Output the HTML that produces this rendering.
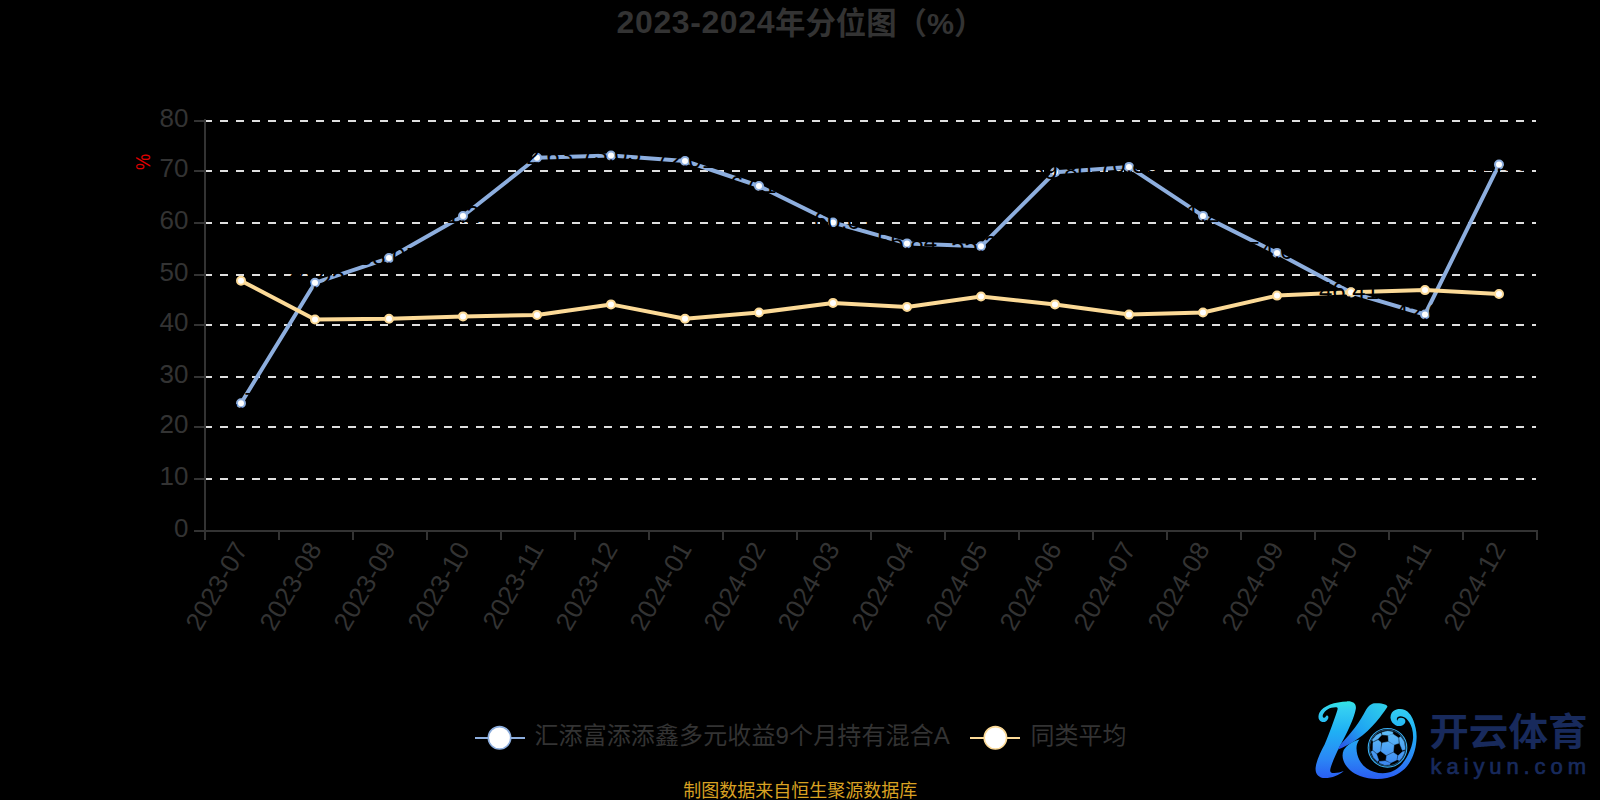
<!DOCTYPE html>
<html lang="zh-CN"><head><meta charset="utf-8"><title>2023-2024年分位图（%）</title>
<style>
html,body{margin:0;padding:0;background:#000;}
body{width:1600px;height:800px;overflow:hidden;position:relative;}
svg{position:absolute;left:0;top:0;display:block;}
text{font-family:"Liberation Sans","Noto Sans CJK SC",sans-serif;}
.ax{fill:#333333;font-size:26px;}
.lb{fill:#000;font-size:24px;text-anchor:middle;}
</style></head><body>
<svg width="1600" height="800" viewBox="0 0 1600 800">
<rect x="0" y="0" width="1600" height="800" fill="#000"/>
<!--TITLE-->
<text x="800.5" y="33.8" text-anchor="middle" font-size="30.4" font-weight="700" fill="#333"><tspan font-size="32" letter-spacing="0.6" dy="-0.7">2023-2024</tspan><tspan dy="0.7">年分位图（%）</tspan></text>
<g fill="none" stroke="#dfdfdf" stroke-width="2" stroke-dasharray="8 8">
<line x1="204" y1="121" x2="1536" y2="121"/>
<line x1="204" y1="171" x2="1536" y2="171"/>
<line x1="204" y1="223" x2="1536" y2="223"/>
<line x1="204" y1="275" x2="1536" y2="275"/>
<line x1="204" y1="325" x2="1536" y2="325"/>
<line x1="204" y1="377" x2="1536" y2="377"/>
<line x1="204" y1="427" x2="1536" y2="427"/>
<line x1="204" y1="479" x2="1536" y2="479"/>
</g>
<g fill="#333333">
<rect x="204" y="119" width="2" height="421"/>
<rect x="204" y="530" width="1334" height="2"/>
<rect x="194" y="120" width="10" height="2"/>
<rect x="194" y="170" width="10" height="2"/>
<rect x="194" y="222" width="10" height="2"/>
<rect x="194" y="274" width="10" height="2"/>
<rect x="194" y="324" width="10" height="2"/>
<rect x="194" y="376" width="10" height="2"/>
<rect x="194" y="426" width="10" height="2"/>
<rect x="194" y="478" width="10" height="2"/>
<rect x="194" y="530" width="10" height="2"/>
<rect x="204" y="530" width="2" height="10"/>
<rect x="278" y="530" width="2" height="10"/>
<rect x="352" y="530" width="2" height="10"/>
<rect x="426" y="530" width="2" height="10"/>
<rect x="500" y="530" width="2" height="10"/>
<rect x="574" y="530" width="2" height="10"/>
<rect x="648" y="530" width="2" height="10"/>
<rect x="722" y="530" width="2" height="10"/>
<rect x="796" y="530" width="2" height="10"/>
<rect x="870" y="530" width="2" height="10"/>
<rect x="944" y="530" width="2" height="10"/>
<rect x="1018" y="530" width="2" height="10"/>
<rect x="1092" y="530" width="2" height="10"/>
<rect x="1166" y="530" width="2" height="10"/>
<rect x="1240" y="530" width="2" height="10"/>
<rect x="1314" y="530" width="2" height="10"/>
<rect x="1388" y="530" width="2" height="10"/>
<rect x="1462" y="530" width="2" height="10"/>
<rect x="1536" y="530" width="2" height="10"/>
</g>
<g class="ax" text-anchor="end">
<text x="188.4" y="127.0">80</text>
<text x="188.4" y="177.0">70</text>
<text x="188.4" y="229.0">60</text>
<text x="188.4" y="281.0">50</text>
<text x="188.4" y="331.0">40</text>
<text x="188.4" y="383.0">30</text>
<text x="188.4" y="433.0">20</text>
<text x="188.4" y="485.0">10</text>
<text x="188.4" y="537.0">0</text>
</g>
<text transform="translate(149.6,161.8) rotate(-90) scale(1.04,1.16)" text-anchor="middle" font-size="17.5" fill="#e00000">%</text>
<g class="ax" text-anchor="end">
<text transform="translate(241.3,544.2) rotate(-60)" y="8.5" letter-spacing="0.25">2023-07</text>
<text transform="translate(315.3,544.2) rotate(-60)" y="8.5" letter-spacing="0.25">2023-08</text>
<text transform="translate(389.3,544.2) rotate(-60)" y="8.5" letter-spacing="0.25">2023-09</text>
<text transform="translate(463.3,544.2) rotate(-60)" y="8.5" letter-spacing="0.25">2023-10</text>
<text transform="translate(537.3,544.2) rotate(-60)" y="8.5" letter-spacing="0.25">2023-11</text>
<text transform="translate(611.3,544.2) rotate(-60)" y="8.5" letter-spacing="0.25">2023-12</text>
<text transform="translate(685.3,544.2) rotate(-60)" y="8.5" letter-spacing="0.25">2024-01</text>
<text transform="translate(759.3,544.2) rotate(-60)" y="8.5" letter-spacing="0.25">2024-02</text>
<text transform="translate(833.3,544.2) rotate(-60)" y="8.5" letter-spacing="0.25">2024-03</text>
<text transform="translate(907.3,544.2) rotate(-60)" y="8.5" letter-spacing="0.25">2024-04</text>
<text transform="translate(981.3,544.2) rotate(-60)" y="8.5" letter-spacing="0.25">2024-05</text>
<text transform="translate(1055.3,544.2) rotate(-60)" y="8.5" letter-spacing="0.25">2024-06</text>
<text transform="translate(1129.3,544.2) rotate(-60)" y="8.5" letter-spacing="0.25">2024-07</text>
<text transform="translate(1203.3,544.2) rotate(-60)" y="8.5" letter-spacing="0.25">2024-08</text>
<text transform="translate(1277.3,544.2) rotate(-60)" y="8.5" letter-spacing="0.25">2024-09</text>
<text transform="translate(1351.3,544.2) rotate(-60)" y="8.5" letter-spacing="0.25">2024-10</text>
<text transform="translate(1425.3,544.2) rotate(-60)" y="8.5" letter-spacing="0.25">2024-11</text>
<text transform="translate(1499.3,544.2) rotate(-60)" y="8.5" letter-spacing="0.25">2024-12</text>
</g>
<polyline points="241,403.2 315,282.8 389,258.1 463,216 537,157.75 611,155.6 685,161 759,186 833,222.5 907,243.4 981,246.3 1055,172.25 1129,166.9 1203,215.9 1277,252.9 1351,292.6 1425,314.5 1499,164.6" fill="none" stroke="#8daede" stroke-width="4" stroke-linejoin="bevel"/>
<g fill="#fff" stroke="#8daede" stroke-width="2">
<circle cx="241" cy="403.2" r="4"/>
<circle cx="315" cy="282.8" r="4"/>
<circle cx="389" cy="258.1" r="4"/>
<circle cx="463" cy="216" r="4"/>
<circle cx="537" cy="157.75" r="4"/>
<circle cx="611" cy="155.6" r="4"/>
<circle cx="685" cy="161" r="4"/>
<circle cx="759" cy="186" r="4"/>
<circle cx="833" cy="222.5" r="4"/>
<circle cx="907" cy="243.4" r="4"/>
<circle cx="981" cy="246.3" r="4"/>
<circle cx="1055" cy="172.25" r="4"/>
<circle cx="1129" cy="166.9" r="4"/>
<circle cx="1203" cy="215.9" r="4"/>
<circle cx="1277" cy="252.9" r="4"/>
<circle cx="1351" cy="292.6" r="4"/>
<circle cx="1425" cy="314.5" r="4"/>
<circle cx="1499" cy="164.6" r="4"/>
</g>
<polyline points="241,280.7 315,319.5 389,318.75 463,316.4 537,314.9 611,304.4 685,318.75 759,312.5 833,302.9 907,306.9 981,296.5 1055,304.4 1129,314.6 1203,312.5 1277,295.6 1351,292.25 1425,290.1 1499,294" fill="none" stroke="#fcda97" stroke-width="4" stroke-linejoin="bevel"/>
<g fill="#fff" stroke="#fcda97" stroke-width="2">
<circle cx="241" cy="280.7" r="4"/>
<circle cx="315" cy="319.5" r="4"/>
<circle cx="389" cy="318.75" r="4"/>
<circle cx="463" cy="316.4" r="4"/>
<circle cx="537" cy="314.9" r="4"/>
<circle cx="611" cy="304.4" r="4"/>
<circle cx="685" cy="318.75" r="4"/>
<circle cx="759" cy="312.5" r="4"/>
<circle cx="833" cy="302.9" r="4"/>
<circle cx="907" cy="306.9" r="4"/>
<circle cx="981" cy="296.5" r="4"/>
<circle cx="1055" cy="304.4" r="4"/>
<circle cx="1129" cy="314.6" r="4"/>
<circle cx="1203" cy="312.5" r="4"/>
<circle cx="1277" cy="295.6" r="4"/>
<circle cx="1351" cy="292.25" r="4"/>
<circle cx="1425" cy="290.1" r="4"/>
<circle cx="1499" cy="294" r="4"/>
</g>
<g class="lb">
<text x="241" y="409.7">24.74</text>
<text x="315" y="289.3">48.23</text>
<text x="389" y="264.6">53.05</text>
<text x="463" y="222.5">61.27</text>
<text x="543" y="164.25">72.63</text>
<text x="611" y="162.1">73.05</text>
<text x="685" y="167.5">72.01</text>
<text x="760" y="192.5">67.12</text>
<text x="844" y="229">60.01</text>
<text x="907" y="249.9">55.84</text>
<text x="981" y="252.8">55.36</text>
<text x="1061" y="178.75">69.80</text>
<text x="1129" y="173.4">70.85</text>
<text x="1203" y="222.4">61.29</text>
<text x="1277" y="259.4">54.07</text>
<text x="1349" y="299.1">46.41</text>
<text x="1425" y="321">42.05</text>
<text x="1499" y="171.1">71.30</text>
</g>
<!--LEGEND-->
<g>
<rect x="475" y="737" width="50" height="2" fill="#8daede"/>
<circle cx="499.5" cy="737.8" r="11.2" fill="#fff" stroke="#8daede" stroke-width="1.6"/>
<text x="534.4" y="744.4" font-size="24" fill="#333" letter-spacing="0.12">汇添富添添鑫多元收益9个月持有混合A</text>
<rect x="970" y="737" width="50" height="2" fill="#fcda97"/>
<circle cx="995.4" cy="737.8" r="11.2" fill="#fff" stroke="#fcda97" stroke-width="1.6"/>
<text x="1030.4" y="744.4" font-size="24" fill="#333">同类平均</text>
</g>
<text x="800.3" y="796.6" text-anchor="middle" font-size="18" fill="#d9a122">制图数据来自恒生聚源数据库</text>
<defs>
<linearGradient id="kg" gradientUnits="userSpaceOnUse" x1="0" y1="700" x2="0" y2="779">
<stop offset="0" stop-color="#32e8e2"/><stop offset="0.13" stop-color="#33cdf2"/><stop offset="0.4" stop-color="#1fb0f4"/><stop offset="0.75" stop-color="#2b86f5"/><stop offset="1" stop-color="#2a5cf2"/>
</linearGradient>
<linearGradient id="ka" gradientUnits="userSpaceOnUse" x1="1385" y1="704" x2="1340" y2="750">
<stop offset="0" stop-color="#2fd0ea"/><stop offset="0.55" stop-color="#1fa4f2"/><stop offset="1" stop-color="#2b4fe6"/>
</linearGradient>
<linearGradient id="kb" gradientUnits="userSpaceOnUse" x1="0" y1="729" x2="0" y2="767">
<stop offset="0" stop-color="#62c2f8"/><stop offset="1" stop-color="#3a84f0"/>
</linearGradient>
</defs>
<g id="logo">
<!-- K left stroke with hook -->
<path fill="url(#kg)" d="M1347,701.3 C1353,701 1356.6,703.6 1355.8,709 C1354.3,718 1347.5,732 1340.2,745.6 C1335,756 1330.8,765.5 1330.2,770 C1330,772.6 1331.8,773.2 1334.5,773 C1337.5,772.8 1340.8,772 1343.7,770.9 C1339.5,775 1332,778 1325,778 C1318.5,778 1315.2,774 1315.6,768 C1316.2,761 1320.5,752 1324.6,744.5 C1329.5,733 1334.2,720 1337.4,710 C1338,708 1337.6,707.2 1335.5,707.2 C1330,707.2 1325,710 1323,714.5 C1322.3,716.3 1322.8,717.8 1324.2,717.8 C1325.4,717.8 1325.6,716.4 1326.6,715.6 C1327.8,715 1328.8,716.4 1328.2,718.4 C1327.2,721.4 1324,722.8 1321.6,721.8 C1318.4,720.4 1317.6,716.6 1319.4,712.8 C1323,705.6 1335,701.8 1347,701.5 Z"/>
<!-- K upper arm -->
<path fill="url(#ka)" d="M1372.5,703.6 C1376,702.8 1381.5,703 1385,704.4 C1386.8,705.1 1387.8,706 1387.3,707 C1384,712 1380.5,716.8 1376.5,721.5 C1371,728 1364.5,734.5 1357.5,739 C1351,743.5 1344,747 1338.2,749.5 C1338.8,747.6 1339.6,745.9 1340.4,744.5 C1346,738.5 1351,732.8 1355,727.6 C1359.5,721.5 1363,715.8 1366.2,709.6 C1368,706.5 1370.2,704.5 1373,703.4 Z"/>
<!-- K lower arm + swirl -->
<path fill="url(#kg)" d="M1359.5,739.4 C1357.3,742.4 1356.4,745 1356.5,748.5 C1356.6,752.5 1357.6,756.5 1359.4,760 C1362.5,766 1368,770 1374.5,772 C1379,773.4 1384,773.7 1388.5,772.6 C1395.5,771 1401,766.2 1405,760 C1409.5,753 1412.6,745 1413.1,737.7 C1413.2,731 1411.6,726 1409.4,722.6 C1407.8,720 1405.8,717.8 1403.7,717 C1401.4,716 1399.2,716.2 1397.8,717.1 C1396.7,718 1396.4,719.8 1397.4,720.8 C1397.6,719.6 1398,718.8 1398.7,718.3 C1400,717.4 1402,717.5 1403.5,718.3 C1404.5,718.9 1405.1,719.7 1405.3,720.6 C1405.6,722.4 1404.8,723.8 1403.7,724.5 C1401.6,726.2 1398.4,726.4 1395.9,725.4 C1393,724.2 1390.8,721.4 1390.5,718.1 C1390.2,714.2 1392.4,711.2 1394.7,710.2 C1397.4,708.8 1401.6,708.6 1404.9,709.9 C1408.4,711.4 1411.6,715.4 1413.3,720.3 C1415.4,726 1416.8,731.5 1416.6,737.7 C1416.4,746.5 1414,755.5 1409,763.5 C1404,771 1396.5,776 1387,778 C1378,779.8 1368,779 1360,776 C1352,773 1346,767.5 1343.6,761 C1342.2,757 1342.2,753.6 1343.7,750.1 C1346.5,745.2 1352,741.4 1359.5,739.4 Z"/>
<!-- ball -->
<clipPath id="bc"><circle cx="1387.5" cy="747.8" r="17.6"/></clipPath>
<circle cx="1387.5" cy="747.8" r="19.3" fill="none" stroke="#3aaef2" stroke-width="1.1"/>
<circle cx="1387.5" cy="747.8" r="18" fill="none" stroke="#3aa0ee" stroke-width="0.5"/>
<g fill="url(#kb)" clip-path="url(#bc)" stroke="url(#kb)" stroke-width="0.5" stroke-linejoin="round">
<polygon points="1382.3,742.9 1388.3,741.7 1394.0,745.0 1393.3,751.7 1386.3,755.3 1380.9,751.3"/>
<polygon points="1388.1,735.5 1393.1,734.3 1398.3,737.7 1398.7,743.3 1394.0,744.7 1388.6,741.3"/>
<polygon points="1381.9,732.4 1387.7,731.1 1392.9,732.1 1392.6,734.2 1387.9,735.2 1382.3,734.8"/>
<polygon points="1372.4,739.7 1376.0,735.4 1380.5,733.0 1381.5,735.1 1377.9,739.0 1373.0,741.5"/>
<polygon points="1373.0,742.6 1378.1,739.9 1381.1,742.6 1380.5,751.0 1376.9,753.4 1372.9,749.9"/>
<polygon points="1371.1,751.7 1372.7,750.7 1376.5,754.0 1378.7,760.3 1377.5,761.5 1373.6,757.6"/>
<polygon points="1379.0,761.5 1385.3,760.9 1390.4,763.0 1389.5,764.8 1384.4,765.1 1379.7,763.0"/>
<polygon points="1386.7,755.8 1393.4,752.5 1397.3,755.2 1396.7,760.0 1390.9,762.7 1385.9,760.3"/>
<polygon points="1398.1,755.7 1402.5,751.7 1405.5,751.1 1404.3,756.4 1400.6,760.7 1397.5,759.9"/>
<polygon points="1399.1,737.7 1400.7,736.7 1404.3,741.4 1405.4,749.5 1402.4,750.3 1399.9,744.1"/>
</g>
<text transform="translate(1429.3,745.2) scale(1.028,0.975)" font-size="38.5" font-weight="700" fill="#182a5c" font-family="'Liberation Sans','Noto Sans CJK SC','WenQuanYi Zen Hei',sans-serif">开云体育</text>
<text x="1430.6" y="773.8" font-size="22" fill="#182a5c" stroke="#182a5c" stroke-width="0.7" letter-spacing="4.9">kaiyun.com</text>
</g>

</svg>
</body></html>
